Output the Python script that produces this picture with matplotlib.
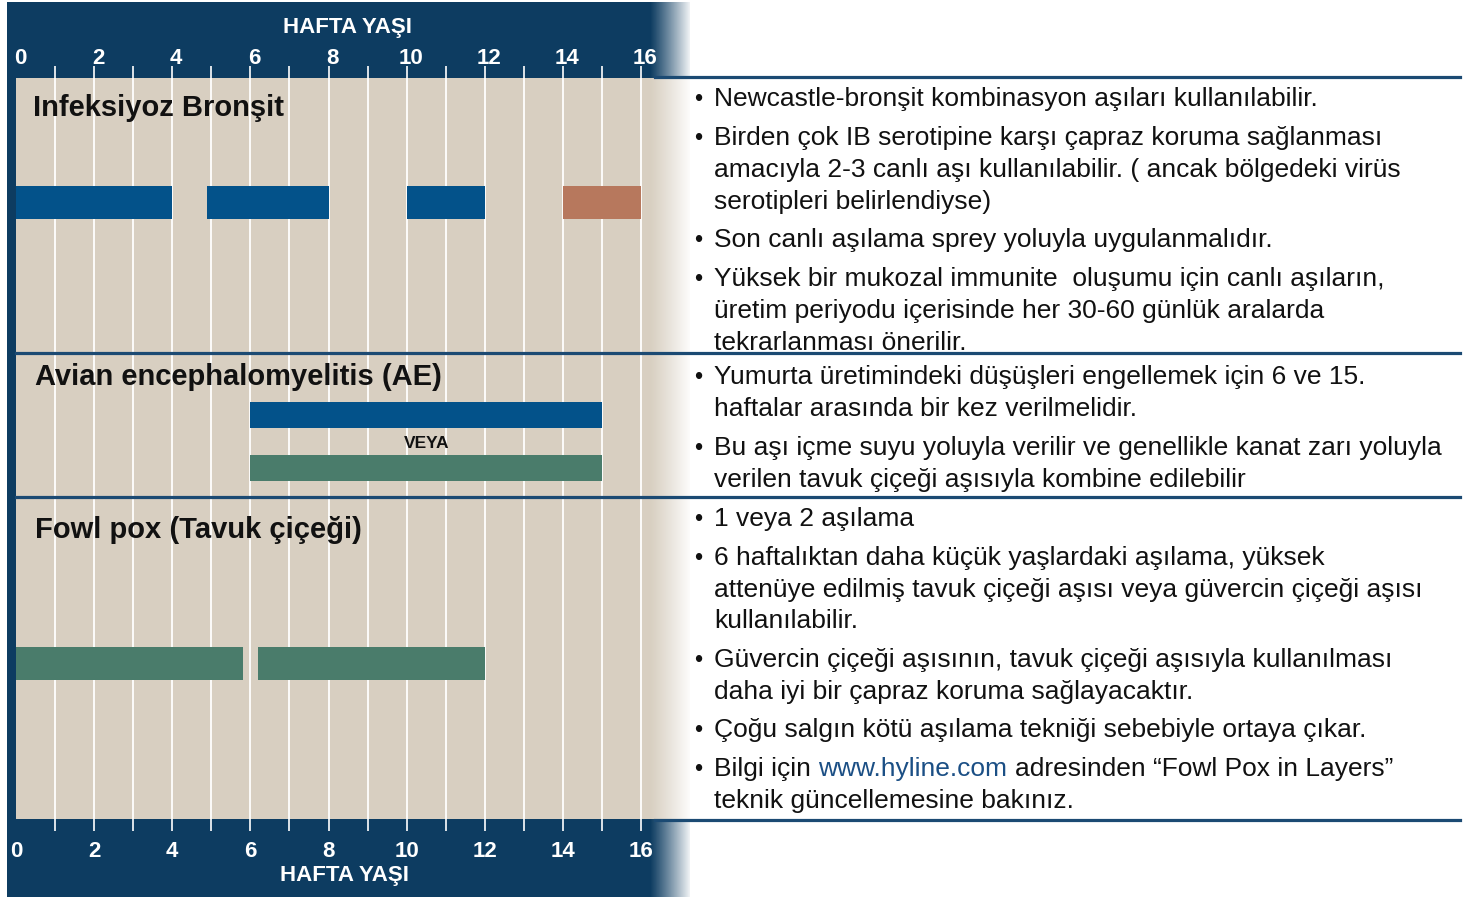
import matplotlib
matplotlib.use("Agg")
import matplotlib.pyplot as plt
from matplotlib.patches import Rectangle
from matplotlib.lines import Line2D
from matplotlib.transforms import ScaledTranslation
import numpy as np

# ---------------- data ----------------
week_labels = [0, 2, 4, 6, 8, 10, 12, 14, 16]
week_grid = list(range(1, 17))
axis_title = "HAFTA YAŞI"
disease_titles = ["Infeksiyoz Bronşit", "Avian encephalomyelitis (AE)", "Fowl pox (Tavuk çiçeği)"]

ib_start = [0, 4.9, 10, 14]
ib_end = [4, 8, 12, 16]
ib_kind = ["canlı", "canlı", "canlı", "inaktif"]

ae_start = [6, 6]
ae_end = [15, 15]
ae_kind = ["içme suyu", "kanat zarı"]
ae_or_text = "VEYA"

fp_start = [0, 6.2]
fp_end = [5.8, 12]

ib_notes = [
    ["Newcastle-bronşit kombinasyon aşıları kullanılabilir."],
    ["Birden çok IB serotipine karşı çapraz koruma sağlanması",
     "amacıyla 2-3 canlı aşı kullanılabilir. ( ancak bölgedeki virüs",
     "serotipleri belirlendiyse)"],
    ["Son canlı aşılama sprey yoluyla uygulanmalıdır."],
    ["Yüksek bir mukozal immunite  oluşumu için canlı aşıların,",
     "üretim periyodu içerisinde her 30-60 günlük aralarda",
     "tekrarlanması önerilir."],
]
ae_notes = [
    ["Yumurta üretimindeki düşüşleri engellemek için 6 ve 15.",
     "haftalar arasında bir kez verilmelidir."],
    ["Bu aşı içme suyu yoluyla verilir ve genellikle kanat zarı yoluyla",
     "verilen tavuk çiçeği aşısıyla kombine edilebilir"],
]
fp_notes = [
    ["1 veya 2 aşılama"],
    ["6 haftalıktan daha küçük yaşlardaki aşılama, yüksek",
     "attenüye edilmiş tavuk çiçeği aşısı veya güvercin çiçeği aşısı",
     "kullanılabilir."],
    ["Güvercin çiçeği aşısının, tavuk çiçeği aşısıyla kullanılması",
     "daha iyi bir çapraz koruma sağlayacaktır."],
    ["Çoğu salgın kötü aşılama tekniği sebebiyle ortaya çıkar."],
    ["Bilgi için www.hyline.com adresinden “Fowl Pox in Layers”",
     "teknik güncellemesine bakınız."],
]
link_text = "www.hyline.com"

# ---------------- styles / layout ----------------
W, H = 1475, 900
NAVY = "#0D3C61"
BEIGE = "#D8CFC1"
BLUE = "#03528A"
GREEN = "#4A7C6B"
BROWN = "#B7785D"
LINE = "#1B4A73"
LINK = "#1B4F85"
kind_color = {"canlı": BLUE, "inaktif": BROWN, "içme suyu": BLUE, "kanat zarı": GREEN}

FONT = "Liberation Sans"

X0 = 12.0      # pixel of week 0
PPW = 39.3     # pixels per week
PLOT_L, PLOT_R = 16, 690
PLOT_T, PLOT_B = 78, 819

fig = plt.figure(figsize=(W / 100, H / 100), dpi=100)


def fx(x):
    return x / W


def fy(y):
    return 1 - y / H


# navy frame
fig.add_artist(Rectangle((fx(7), fy(897)), fx(690) - fx(7), fy(2) - fy(897),
                         facecolor=NAVY, edgecolor="none", zorder=-2))

ax = fig.add_axes([fx(PLOT_L), fy(PLOT_B), fx(PLOT_R) - fx(PLOT_L), fy(PLOT_T) - fy(PLOT_B)])
ax.set_facecolor(BEIGE)
ax.set_xlim((PLOT_L - X0) / PPW, (PLOT_R - X0) / PPW)
ax.set_ylim(PLOT_B, PLOT_T)
for s in ax.spines.values():
    s.set_visible(False)
ax.set_yticks([])

ax.xaxis.remove_overlapping_locs = False
ax.set_xticks(week_grid, minor=True)
ax.set_xticks(week_labels)
ax.set_xticklabels([str(w) for w in week_labels])
ax.grid(which="minor", axis="x", color="white", lw=1.3, zorder=0)
ax.grid(which="major", visible=False)
ax.set_axisbelow(True)
ax.tick_params(which="minor", direction="out", length=8.5, width=1.2, color="white",
               top=True, bottom=True)
ax.tick_params(which="major", length=0, top=False, bottom=True, labelbottom=True,
               labeltop=False, labelcolor="white", labelsize=16, pad=16)
for lab in ax.get_xticklabels():
    lab.set_fontweight("bold")
    lab.set_family(FONT)

# top tick labels (slightly shifted right, as in the reference)
top_off = ScaledTranslation(4 / 100, 0, fig.dpi_scale_trans)
for w in week_labels:
    ax.text(w, 1 + (PLOT_T - 58) / (PLOT_B - PLOT_T), str(w),
            transform=ax.get_xaxis_transform() + top_off,
            ha="center", va="center", color="white", fontsize=16,
            fontweight="bold", family=FONT, clip_on=False)

fig.text(fx(347), fy(27), axis_title, ha="center", va="center", color="white",
         fontsize=16, fontweight="bold", family=FONT)
fig.text(fx(344), fy(876), axis_title, ha="center", va="center", color="white",
         fontsize=16, fontweight="bold", family=FONT)

# bars
IB_Y, IB_H = 202.5, 33
AE_Y, AE_H = [415, 468], 26
FP_Y, FP_H = 663.5, 33
for s, e, k in zip(ib_start, ib_end, ib_kind):
    ax.barh(IB_Y, e - s, left=s, height=IB_H, color=kind_color[k], zorder=3)
for yv, s, e, k in zip(AE_Y, ae_start, ae_end, ae_kind):
    ax.barh(yv, e - s, left=s, height=AE_H, color=kind_color[k], zorder=3)
ax.text((ae_start[0] + ae_end[0]) / 2, 443, ae_or_text, ha="center", va="center",
        fontsize=12.5, fontweight="bold", family=FONT, color="#111111", zorder=4)
for s, e in zip(fp_start, fp_end):
    ax.barh(FP_Y, e - s, left=s, height=FP_H, color=GREEN, zorder=3)

# disease titles
title_pos = [(33, 116), (35, 385), (35, 538)]
for (tx, ty), t in zip(title_pos, disease_titles):
    fig.text(fx(tx), fy(ty), t, ha="left", va="baseline", fontsize=21,
             fontweight="bold", family=FONT, color="#111111", zorder=6)

# fade to white on the right edge of the panel
ov = fig.add_axes([fx(650), 0, fx(692) - fx(650), 1], zorder=5)
ov.axis("off")
grad = np.ones((2, 256, 4))
grad[..., 3] = np.linspace(0, 1, 256) ** 1.1
ov.imshow(grad, aspect="auto", extent=[0, 1, 0, 1], interpolation="bilinear")
ov.set_xlim(0, 1)
ov.set_ylim(0, 1)

# separator lines
for (x1, x2, yv) in [(655, 1460, 77), (16, 1460, 353), (16, 1460, 497), (655, 1460, 820)]:
    fig.add_artist(Line2D([fx(x1), fx(x2)], [fy(yv), fy(yv)], color=LINE, lw=2.3, zorder=10))

# notes on the right
TEXT_FS = 19
BUL_X, TXT_X = 698, 714
LINE_STEP, BULLET_STEP = 32, 38.5


def draw_notes(notes, y0):
    y = y0
    for bullet in notes:
        fig.text(fx(BUL_X), fy(y), "•", ha="center", va="baseline", fontsize=TEXT_FS - 2,
                 family=FONT, color="#111111", zorder=11)
        for i, line in enumerate(bullet):
            if link_text in line:
                pre, post = line.split(link_text)
                t1 = fig.text(fx(TXT_X), fy(y), pre.strip(), ha="left", va="baseline",
                              fontsize=TEXT_FS, family=FONT, color="#111111", zorder=11)
                t2 = fig.text(0, 0, link_text, ha="left", va="baseline", fontsize=TEXT_FS,
                              family=FONT, color=LINK, zorder=11)
                t3 = fig.text(0, 0, post.strip(), ha="left", va="baseline", fontsize=TEXT_FS,
                              family=FONT, color="#111111", zorder=11)
                fig.canvas.draw()
                r = fig.canvas.get_renderer()
                bb1 = t1.get_window_extent(r)
                sp = TEXT_FS * 0.278 / 72 * 100
                t2.set_position(((bb1.x1 + sp) / W, fy(y)))
                bb2 = t2.get_window_extent(r)
                t3.set_position(((bb2.x1 + sp) / W, fy(y)))
            else:
                fig.text(fx(TXT_X), fy(y), line, ha="left", va="baseline",
                         fontsize=TEXT_FS, family=FONT, color="#111111", zorder=11)
            if i < len(bullet) - 1:
                y += LINE_STEP
        y += BULLET_STEP


draw_notes(ib_notes, 106)
draw_notes(ae_notes, 384)
draw_notes(fp_notes, 526)

fig.savefig("out.png", dpi=100, facecolor="white")
